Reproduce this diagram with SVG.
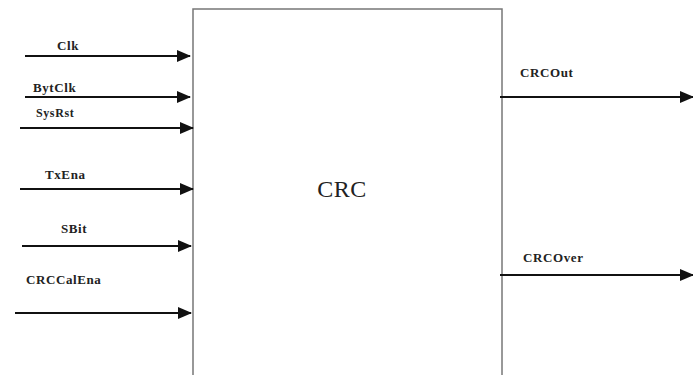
<svg xmlns="http://www.w3.org/2000/svg" width="693" height="375" viewBox="0 0 693 375">
<style>
.lbl{font-family:"Liberation Serif","DejaVu Serif",serif;font-size:13px;font-weight:bold;fill:#222;letter-spacing:0.6px}
.ln{stroke:#111;stroke-width:2;fill:none}
</style>
<defs>
<marker id="ah" markerWidth="14" markerHeight="12" refX="13" refY="6" orient="auto" markerUnits="userSpaceOnUse">
<path d="M0,0 L14,6 L0,12 Z" fill="#111"/>
</marker>
</defs>
<rect width="693" height="375" fill="#fff"/>
<g id="crc">
<rect x="193" y="9" width="309" height="380" fill="#fff" stroke="#777" stroke-width="1.5"/>
<text x="342" y="197" text-anchor="middle" style="font-family:'Liberation Serif','DejaVu Serif',serif;font-size:24px;fill:#222;letter-spacing:0.5px">CRC</text>
</g>
<g id="labels">
<text class="lbl" x="57" y="50">Clk</text>
<text class="lbl" x="33" y="92">BytClk</text>
<text class="lbl" x="36" y="117" style="font-size:12px">SysRst</text>
<text class="lbl" x="45" y="179">TxEna</text>
<text class="lbl" x="61" y="233">SBit</text>
<text class="lbl" x="26" y="284">CRCCalEna</text>
<text class="lbl" x="520" y="77">CRCOut</text>
<text class="lbl" x="523" y="262">CRCOver</text>
</g>
<g id="connectors">
<line class="ln" x1="25" y1="56" x2="190" y2="56" marker-end="url(#ah)"/>
<line class="ln" x1="25" y1="97" x2="190" y2="97" marker-end="url(#ah)"/>
<line class="ln" x1="20" y1="128" x2="193" y2="128" marker-end="url(#ah)"/>
<line class="ln" x1="20" y1="189" x2="193" y2="189" marker-end="url(#ah)"/>
<line class="ln" x1="22" y1="246" x2="191" y2="246" marker-end="url(#ah)"/>
<line class="ln" x1="15" y1="313" x2="191" y2="313" marker-end="url(#ah)"/>
<line class="ln" x1="500" y1="97" x2="693" y2="97" marker-end="url(#ah)"/>
<line class="ln" x1="500" y1="275" x2="693" y2="275" marker-end="url(#ah)"/>
</g>
</svg>
